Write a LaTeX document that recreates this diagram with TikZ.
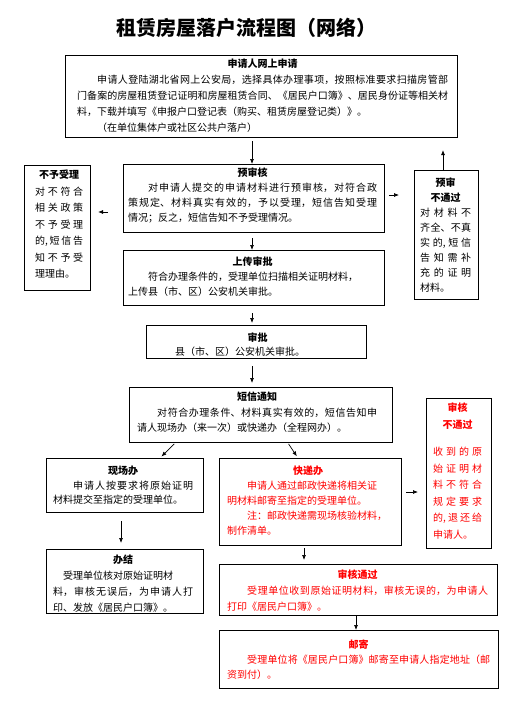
\documentclass[tikz,border=0pt]{standalone}
\usepackage{fontspec}
\setmainfont{Noto Sans CJK SC}
\usetikzlibrary{arrows.meta,calc}
\XeTeXlinebreaklocale "zh"
\XeTeXlinebreakskip=0pt plus 4pt
\parindent=0pt
\hbadness=10000
\hfuzz=2pt
\newcommand{\btitle}[1]{{\centering\bfseries #1\par}}
\begin{document}
\begin{tikzpicture}[x=1pt,y=-1pt,
  box/.style={draw, line width=1.1pt, rectangle, anchor=north west, inner sep=0pt},
  txt/.style={anchor=north west, inner sep=0pt, align=justify, font=\fontsize{10}{15}\selectfont},
  arr/.style={line width=0.7pt, -{Latex[length=5pt,width=4pt]}}]
\useasboundingbox (0,0) rectangle (511,725);
\node[font=\fontsize{20}{24}\selectfont\bfseries] (title) at (246,28) {租赁房屋落户流程图（网络）};
% boxes
\node[box, minimum width=392, minimum height=82] (n1) at (65,55) {};
\node[box, minimum width=66, minimum height=125] (n2) at (24,165) {};
\node[box, minimum width=261, minimum height=68] (n3) at (123,164) {};
\node[box, minimum width=64, minimum height=129] (n4) at (414,170) {};
\node[box, minimum width=261, minimum height=55] (n5) at (123,250) {};
\node[box, minimum width=220, minimum height=33] (n6) at (146,325) {};
\node[box, minimum width=263, minimum height=55] (n7) at (129,387) {};
\node[box, minimum width=157, minimum height=54] (n8) at (46,458) {};
\node[box, minimum width=182, minimum height=87] (n9) at (219,458) {};
\node[box, minimum width=65, minimum height=150] (n10) at (426,398) {};
\node[box, minimum width=157, minimum height=64] (n12) at (46,549) {};
\node[box, minimum width=278, minimum height=51] (n13) at (219,564) {};
\node[box, minimum width=279, minimum height=58] (n14) at (219,630) {};
% texts
\node[txt, text width=371, font=\fontsize{10}{16}\selectfont] (t1) at (77,59) {\btitle{申请人网上申请}%
\hspace*{2em}申请人登陆湖北省网上公安局，选择具体办理事项，按照标准要求扫描房管部\linebreak
门备案的房屋租赁登记证明和房屋租赁合同、《居民户口簿》、居民身份证等相关材\linebreak
料，下载并填写《申报户口登记表（购买、租赁房屋登记类）》。\newline
\hspace*{2em}（在单位集体户或社区公共户落户）};
\node[txt, text width=48, font=\fontsize{10}{16.5}\selectfont] (t2) at (35,170) {\btitle{不予受理}%
对不符合\linebreak
相关政策\linebreak
不予受理\linebreak
的,短信告\linebreak
知不予受\linebreak
理理由。};
\node[txt, text width=249, font=\fontsize{10}{14.7}\selectfont] (t3) at (128,168) {\btitle{预审核}%
\hspace*{2em}对申请人提交的申请材料进行预审核，对符合政\linebreak
策规定、材料真实有效的，予以受理，短信告知受理\linebreak
情况；反之，短信告知不予受理情况。};
\node[txt, text width=51] (t4) at (420,178) {\btitle{预审\\不通过}%
对材料不\linebreak
齐全、不真\linebreak
实的,短信\linebreak
告知需补\linebreak
充的证明\linebreak
材料。};
\node[txt, text width=249] (t5) at (128,257) {\btitle{上传审批}%
\hspace*{2em}符合办理条件的，受理单位扫描相关证明材料，\newline
上传县（市、区）公安机关审批。};
\node[txt, text width=205, font=\fontsize{10}{14}\selectfont] (t6) at (155,333) {\btitle{审批}%
\hspace*{2em}县（市、区）公安机关审批。};
\node[txt, text width=240, font=\fontsize{10}{15.5}\selectfont] (t7) at (137,392) {\btitle{短信通知}%
\hspace*{2em}对符合办理条件、材料真实有效的，短信告知申\linebreak
请人现场办（来一次）或快递办（全程网办）。};
\node[txt, text width=140, font=\fontsize{10}{14.5}\selectfont] (t8) at (53,466) {\btitle{现场办}%
\hspace*{2em}申请人按要求将原始证明\linebreak
材料提交至指定的受理单位。};
\node[txt, text width=162, text=red] (t9) at (227,466) {\btitle{快递办}%
\hspace*{2em}申请人通过邮政快递将相关证\newline
明材料邮寄至指定的受理单位。\par
\hspace*{2em}注：邮政快递需现场核验材料，\newline
制作清单。};
\node[txt, text width=49, text=red, font=\fontsize{10}{16.5}\selectfont] (t10) at (433,403) {\btitle{审核\\不通过}%
\vspace*{11pt}%
收到的原\linebreak
始证明材\linebreak
料不符合\linebreak
规定要求\linebreak
的,退还给\linebreak
申请人。};
\node[txt, text width=140, font=\fontsize{10}{16}\selectfont] (t12) at (53,555) {\btitle{办结}%
\hspace*{1em}受理单位核对原始证明材\newline
料，审核无误后，为申请人打\linebreak
印、发放《居民户口簿》。};
\node[txt, text width=261, text=red, font=\fontsize{10}{16}\selectfont] (t13) at (227,570) {\btitle{审核通过}%
\hspace*{2em}受理单位收到原始证明材料，审核无误的，为申请人\linebreak
打印《居民户口簿》。};
\node[txt, text width=263, text=red] (t14) at (227,640) {\btitle{邮寄}%
\hspace*{2em}受理单位将《居民户口簿》邮寄至申请人指定地址（邮\linebreak
资到付）。};
% column coordinates
\coordinate (cx) at (252,0);
\coordinate (cl1) at (175,0);
\coordinate (cl2) at (160,0);
\coordinate (cr1) at (288,0);
\coordinate (cr2) at (298,0);
\coordinate (cxl) at (121,0);
\coordinate (cxm) at (304,0);
\coordinate (cxr) at (356,0);
\coordinate (ry1) at (0,212);
\coordinate (ry2) at (0,195);
\coordinate (ry3) at (0,492);
\coordinate (cup) at (443,0);
% connectors
\draw[arr, shorten <=3pt] (n1.south -| cx) -- (n3.north -| cx);
\draw[arr, shorten <=5pt] (n3.south -| cx) -- (n5.north -| cx);
\draw[arr, shorten <=7pt, shorten >=2pt] (n5.south -| cx) -- (n6.north -| cx);
\draw[arr, shorten <=7pt, shorten >=4pt] (n6.south -| cx) -- (n7.north -| cx);
\draw[arr, shorten <=15pt, shorten >=7pt] (n3.west |- ry1) -- (n2.east |- ry1);
\draw[arr, shorten <=4pt, shorten >=15pt] (n3.east |- ry2) -- (n4.west |- ry2);
\draw[arr, shorten >=12pt] (n4.north -| cup) -- (n1.south -| cup);
\draw[arr, shorten <=1pt, shorten >=2pt] (n7.south -| cl1) -- (n8.north -| cl2);
\draw[arr, shorten <=1pt, shorten >=2pt] (n7.south -| cr1) -- (n9.north -| cr2);
\draw[arr, shorten <=4pt, shorten >=8pt] (n9.east |- ry3) -- (n10.west |- ry3);
\draw[arr, shorten <=8pt, shorten >=6pt] (n8.south -| cxl) -- (n12.north -| cxl);
\draw[arr, shorten <=2pt, shorten >=4pt] (n9.south -| cxm) -- (n13.north -| cxm);
\draw[arr] (n13.south -| cxr) -- (n14.north -| cxr);
\end{tikzpicture}
\end{document}
